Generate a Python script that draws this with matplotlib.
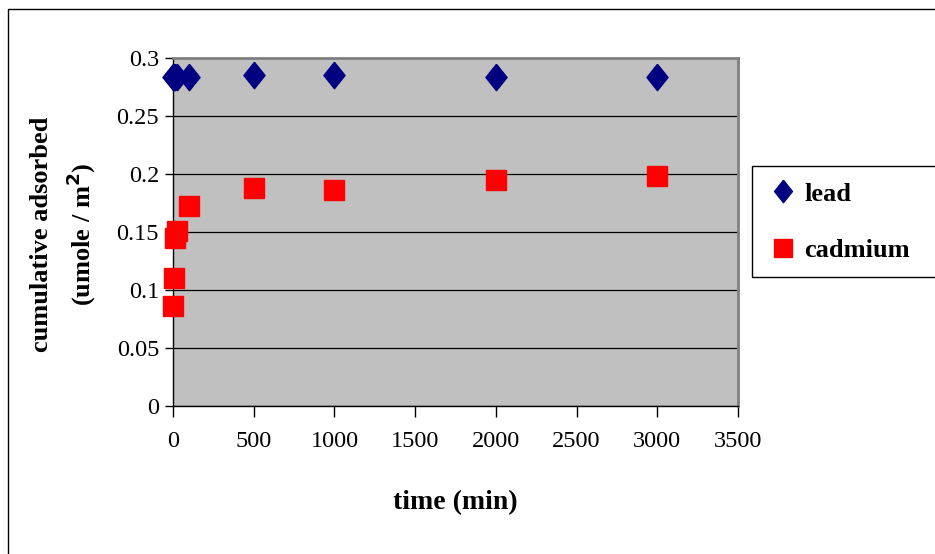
import numpy as np
import matplotlib; matplotlib.use("Agg")
import matplotlib.pyplot as plt
from matplotlib.patches import Rectangle

W, H = 935, 554
plt.rcParams["font.family"] = ["Liberation Serif", "DejaVu Serif"]

time_min = [2, 5, 10, 25, 100, 500, 1000, 2000, 3000]
lead = [0.284, 0.284, 0.284, 0.284, 0.284, 0.285, 0.285, 0.284, 0.284]
cadmium = [0.086, 0.110, 0.145, 0.151, 0.172, 0.188, 0.186, 0.195, 0.198]
x_ticks = [0, 500, 1000, 1500, 2000, 2500, 3000, 3500]
y_ticks = [0, 0.05, 0.1, 0.15, 0.2, 0.25, 0.3]

def fx(px): return px / W
def fy(py): return 1 - py / H

fig = plt.figure(figsize=(W / 100, H / 100), dpi=100)
ax = fig.add_axes([fx(173), fy(406), fx(738) - fx(173), fy(58) - fy(406)])
ax.set_facecolor("#C0C0C0")
ax.set_xlim(0, 3500); ax.set_ylim(0, 0.3)
ax.set_xticks(x_ticks); ax.set_yticks(y_ticks)
ax.set_yticklabels([f"{v:g}" for v in y_ticks])
ax.grid(axis="y", color="black", lw=0.9)
ax.set_axisbelow(True)
for s in ["top", "right"]:
    ax.spines[s].set_color("#808080"); ax.spines[s].set_linewidth(2)
for s in ["left", "bottom"]:
    ax.spines[s].set_color("black"); ax.spines[s].set_linewidth(1)
ax.tick_params(axis="x", direction="out", length=8, width=1, pad=10, labelsize=17.5)
ax.tick_params(axis="y", direction="out", length=6, width=1, pad=4, labelsize=17.5)

diamond = [(0, 1), (0.8, 0), (0, -1), (-0.8, 0), (0, 1)]
h1, = ax.plot(time_min, lead, ls="none", marker=diamond, ms=19, color="#000080", clip_on=False, zorder=3)
h2, = ax.plot(time_min, cadmium, ls="none", marker="s", ms=15, color="#FF0000", clip_on=False, zorder=3)

fig.text(fx(455), fy(503), "time (min)", ha="center", va="center", fontsize=20, fontweight="bold")
fig.text(fx(64), fy(234), "cumulative adsorbed\n(umole / m$^\\mathbf{2}$)", ha="center", va="center",
         rotation=90, fontsize=19, fontweight="bold", linespacing=1.45)

# legend frame runs past the right edge
fig.patches.append(Rectangle((fx(752), fy(277)), fx(960) - fx(752), fy(166) - fy(277),
                             transform=fig.transFigure, fill=False, ec="black", lw=1))
fig.legend([h1, h2], ["lead", "cadmium"], loc="center left", bbox_to_anchor=(fx(746), fy(222)),
           frameon=False, prop={"weight": "bold", "size": 19}, handletextpad=0.3,
           labelspacing=1.25, handlelength=1.0, markerscale=0.85)

fig.patches.append(Rectangle((fx(8), fy(580)), fx(960) - fx(8), fy(9) - fy(580),
                             transform=fig.transFigure, fill=False, ec="black", lw=1))
fig.savefig("out.png", dpi=100)
